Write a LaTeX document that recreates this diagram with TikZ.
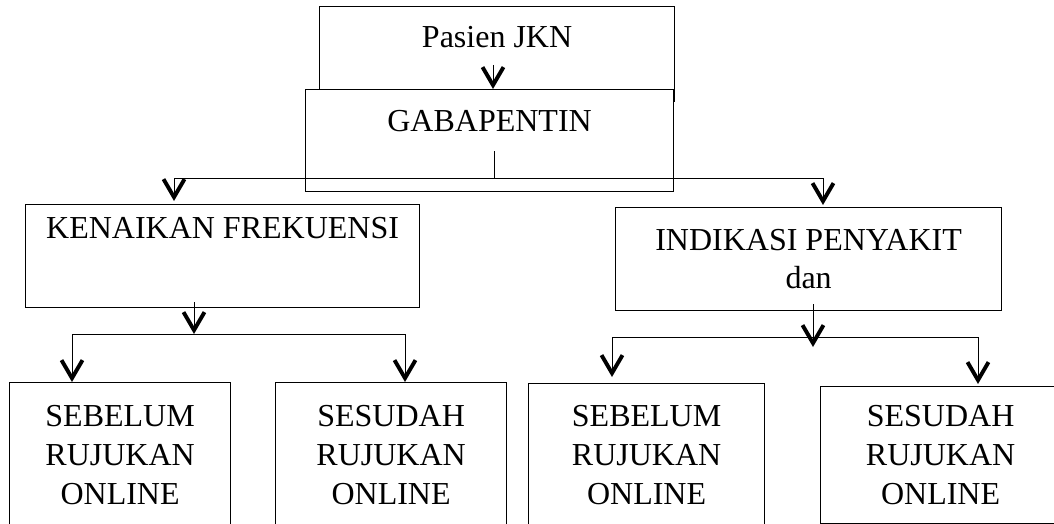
\documentclass[tikz,border=0pt]{standalone}
\usepackage{fontspec}
\setmainfont{Liberation Serif}
\usetikzlibrary{arrows.meta}

\begin{document}
\begin{tikzpicture}[x=1pt,y=-1pt,
  box/.style={draw,line width=1.2pt,fill=white,inner sep=0pt,anchor=north west,
    align=center,font=\fontsize{32}{39}\selectfont},
  arr/.style={line width=0.9pt,-{Straight Barb[length=18pt,width=21pt,line width=3pt 1]}},
  link/.style={line width=0.9pt}]
\useasboundingbox (0,0) rectangle (1054,524);
\clip (0,0) rectangle (1054,524);
  % Draw top boxes
  \node[box,minimum width=355pt,minimum height=95pt,text height=41pt,text depth=54pt] (pasien) at (319,6) {Pasien JKN};
  \node[box,minimum width=368pt,minimum height=102pt,text height=41.5pt,text depth=60.5pt] (gaba) at (305,89) {GABAPENTIN};
  % Draw middle boxes
  \node[box,minimum width=394pt,minimum height=103pt,text height=34pt,text depth=69pt] (naik) at (25,204) {KENAIKAN FREKUENSI};
  \node[box,minimum width=386pt,minimum height=103pt,font=\fontsize{32}{38}\selectfont] (indik) at (615,207) {INDIKASI PENYAKIT\\dan};
  % Draw bottom boxes
  \node[box,minimum width=221pt,minimum height=144pt] (sebL) at (9,382) {SEBELUM\\RUJUKAN\\ONLINE};
  \node[box,minimum width=231pt,minimum height=144pt] (sesL) at (275,382) {SESUDAH\\RUJUKAN\\ONLINE};
  \node[box,minimum width=236pt,minimum height=142pt] (sebR) at (528,383) {SEBELUM\\RUJUKAN\\ONLINE};
  \node[box,minimum width=240pt,minimum height=137pt] (sesR) at (820,386) {SESUDAH\\RUJUKAN\\ONLINE};
  % Pasien to gabapentin
  \coordinate (p1) at (493,65);
  \draw[arr] (p1) -- (p1 |- gaba.north);
  % Gabapentin split
  \coordinate (g1) at (494,151);
  \coordinate (g2) at (494,178);
  \coordinate (gl) at (174,178);
  \coordinate (gr) at (823,178);
  \draw[link] (g1) -- (g2);
  \draw[link] (gl) -- (gr);
  \draw[arr,shorten >=3pt] (gl) -- (gl |- naik.north);
  \draw[arr,shorten >=2pt] (gr) -- (gr |- indik.north);
  % Kenaikan split
  \coordinate (k1) at (194,302);
  \coordinate (k2) at (194,334);
  \coordinate (kl) at (72,334);
  \coordinate (kr) at (405,334);
  \draw[arr] (k1) -- (k2);
  \draw[link] (kl) -- (kr);
  \draw[arr] (kl) -- (kl |- sebL.north);
  \draw[arr] (kr) -- (kr |- sesL.north);
  % Indikasi split
  \coordinate (i1) at (813,304);
  \coordinate (i2) at (813,347);
  \coordinate (il) at (612,337);
  \coordinate (ir) at (978,337);
  \draw[arr] (i1) -- (i2);
  \draw[link] (il) -- (ir);
  \draw[arr,shorten >=6pt] (il) -- (il |- sebR.north);
  \draw[arr,shorten >=2pt] (ir) -- (ir |- sesR.north);
\end{tikzpicture}
\end{document}
